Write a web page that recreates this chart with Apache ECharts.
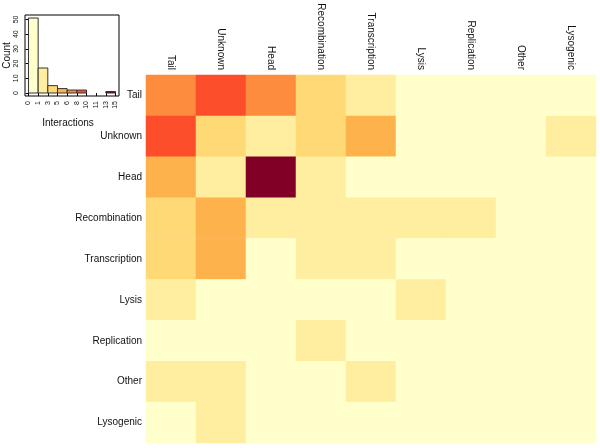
<!DOCTYPE html>
<html>
<head>
<meta charset="utf-8">
<script src="https://cdn.jsdelivr.net/npm/echarts@6/dist/echarts.min.js"></script>
<style>html,body{margin:0;padding:0;background:#fff}#c{width:600px;height:448px}</style>
</head>
<body>
<div id="c"></div>
<script>
// Heatmap categories (rows top-to-bottom, columns left-to-right)
const categories = ['Tail','Unknown','Head','Recombination','Transcription','Lysis','Replication','Other','Lysogenic'];
// Interaction values, one array per row
const rowTail          = [8,10,8,4,2,0,0,0,0];
const rowUnknown       = [10,4,2,4,6,0,0,0,2];
const rowHead          = [6,2,15,2,0,0,0,0,0];
const rowRecombination = [4,6,2,2,2,2,2,0,0];
const rowTranscription = [4,6,0,2,2,0,0,0,0];
const rowLysis         = [2,0,0,0,0,2,0,0,0];
const rowReplication   = [0,0,0,2,0,0,0,0,0];
const rowOther         = [2,2,0,0,2,0,0,0,0];
const rowLysogenic     = [0,2,0,0,0,0,0,0,0];
const matrix = [rowTail,rowUnknown,rowHead,rowRecombination,rowTranscription,rowLysis,rowReplication,rowOther,rowLysogenic];

// Histogram inset
const histCounts = [51,17,5,3,2,2,0,0,1];
const breakLabels = ['0','1','3','5','6','8','10','11','13','15'];
const breakValues = [0,1.667,3.333,5,6.667,8.333,10,11.667,13.333,15];
const countTicks = [0,10,20,30,40,50];
const palette = ['#FFFFCC','#FFEDA0','#FED976','#FEB24C','#FD8D3C','#FC4E2A','#E31A1C','#BD0026','#800026'];

const heatData = [];
matrix.forEach((row, r) => row.forEach((v, c) => heatData.push([c, r, v])));

const pieces = [];
for (let i = 0; i < 9; i++) {
  pieces.push({ gte: i === 0 ? -1 : breakValues[i] + 0.0001, lte: breakValues[i + 1], color: palette[i] });
}
const binIdx = breakLabels.map((_, i) => i);

const font = 'Liberation Sans, Arial, sans-serif';
const chart = echarts.init(document.getElementById('c'), null, { renderer: 'canvas' });
chart.setOption({
  animation: false,
  backgroundColor: '#fff',
  textStyle: { fontFamily: font },
  grid: [
    { left: 146, top: 75, width: 450, height: 368, outerBoundsMode: 'none', containLabel: false },
    { left: 25, top: 15, width: 94, height: 81, outerBoundsMode: 'none', containLabel: false,
      show: true, borderColor: '#000', borderWidth: 1, backgroundColor: 'transparent' }
  ],
  xAxis: [
    {
      type: 'category', gridIndex: 0, data: categories, position: 'top',
      axisLine: { show: false }, axisTick: { show: false }, splitLine: { show: false },
      axisLabel: { rotate: 90, fontSize: 10, color: '#111', margin: 5, fontFamily: font, hideOverlap: false }
    },
    {
      type: 'value', gridIndex: 1, min: -0.36, max: 9.36,
      axisLine: { show: false }, splitLine: { show: false },
      axisTick: { show: true, length: 3, lineStyle: { color: '#000' }, customValues: binIdx },
      axisLabel: { rotate: 90, fontSize: 7, color: '#111', margin: 5, fontFamily: font, hideOverlap: false,
        customValues: binIdx, formatter: v => breakLabels[Math.round(v)] },
      name: 'Interactions', nameLocation: 'middle', nameGap: 22,
      nameTextStyle: { fontSize: 10, color: '#111', fontFamily: font, padding: [0, 8, 0, 0] }
    }
  ],
  yAxis: [
    {
      type: 'category', gridIndex: 0, data: categories, inverse: true,
      axisLine: { show: false }, axisTick: { show: false }, splitLine: { show: false },
      axisLabel: { fontSize: 10, color: '#111', margin: 4, fontFamily: font }
    },
    {
      type: 'value', gridIndex: 1, min: -2.04, max: 53.04,
      axisLine: { show: false }, splitLine: { show: false },
      axisTick: { show: true, length: 3, lineStyle: { color: '#000' }, customValues: countTicks },
      axisLabel: { rotate: 90, fontSize: 7, color: '#111', margin: 5, fontFamily: font, hideOverlap: false,
        customValues: countTicks },
      name: 'Count', nameLocation: 'middle', nameGap: 11, nameRotate: 90,
      nameTextStyle: { fontSize: 10, color: '#111', fontFamily: font }
    }
  ],
  visualMap: { show: false, type: 'piecewise', seriesIndex: 0, dimension: 2, pieces: pieces },
  series: [
    {
      type: 'heatmap', xAxisIndex: 0, yAxisIndex: 0, data: heatData,
      itemStyle: { borderWidth: 0 }, emphasis: { disabled: true }
    },
    {
      type: 'custom', xAxisIndex: 1, yAxisIndex: 1,
      data: histCounts.map((c, i) => [i, c]),
      renderItem: function (params, api) {
        const i = api.value(0), c = api.value(1);
        if (!c) return null;
        const p0 = api.coord([i, c]);
        const p1 = api.coord([i + 1, 0]);
        return {
          type: 'rect',
          shape: { x: p0[0], y: p0[1], width: p1[0] - p0[0], height: p1[1] - p0[1] },
          style: { fill: palette[i], stroke: '#333', lineWidth: 1 }
        };
      }
    }
  ]
});
</script>
</body>
</html>
